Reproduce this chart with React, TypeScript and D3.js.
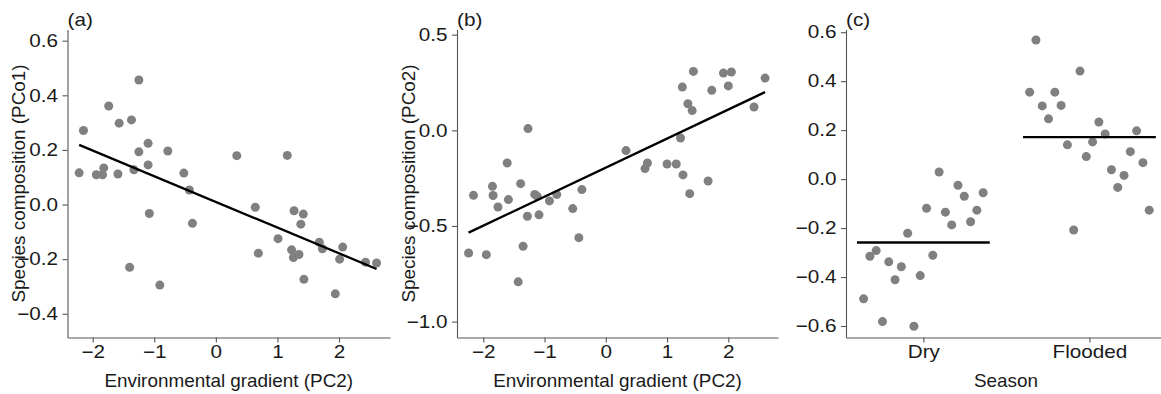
import React, { useEffect, useRef } from 'react';
import * as d3 from 'd3';

// panel (a): environmental gradient vs PCo1
const pc2A = [
	-2.22, -2.15, -1.94, -1.84, -1.82, -1.74, -1.59, -1.57, -1.37, -1.33, -1.25, -1.25, -1.1, -1.1, -0.78, -0.52, -0.43, 0.34,
	1.16, -1.08, -0.38, 0.64, 0.69, 1.01, 1.27, 1.42, 1.38, 1.23, 1.26, 1.35, 1.43, 1.68, 1.73, 2.06, 2.01, 1.94, 2.43, 2.61,
	-1.4, -0.91,
];
const pco1 = [
	0.116, 0.271, 0.109, 0.109, 0.134, 0.361, 0.112, 0.298, 0.31, 0.127, 0.456, 0.193, 0.224, 0.145, 0.196, 0.115, 0.053,
	0.179, 0.18, -0.033, -0.069, -0.01, -0.178, -0.125, -0.023, -0.035, -0.072, -0.166, -0.194, -0.183, -0.274, -0.138,
	-0.162, -0.156, -0.2, -0.327, -0.211, -0.214, -0.23, -0.295,
];

// panel (b): environmental gradient vs PCo2
const pc2B = [
	-2.16, -1.85, -1.84, -1.61, -1.59, -1.39, -1.27, -1.12, -1.16, -0.8, -0.39, 0.33, 0.64, 0.68, 1.0, 1.15, 1.22, 1.26, 1.25,
	1.34, 1.41, 1.43, 1.37, 1.67, 1.73, 1.92, 2.05, 2.0, 2.42, 2.6, -1.76, -0.92, -1.28, -1.09, -0.54, -2.24, -1.95, -1.35,
	-0.44, -1.43,
];
const pco2 = [
	-0.34, -0.293, -0.341, -0.171, -0.362, -0.279, 0.009, -0.345, -0.335, -0.336, -0.31, -0.106, -0.2, -0.171, -0.176, -0.176,
	-0.04, -0.233, 0.226, 0.139, 0.103, 0.308, -0.331, -0.265, 0.209, 0.299, 0.305, 0.232, 0.122, 0.273, -0.401, -0.369,
	-0.449, -0.442, -0.409, -0.641, -0.65, -0.606, -0.561, -0.792,
];

// panel (c): PCo1 by season
const seasons = ['Dry', 'Flooded'];
const dryValues = [
	-0.489, -0.315, -0.292, -0.582, -0.338, -0.411, -0.358, -0.221, -0.601, -0.394, -0.119, -0.311, 0.029, -0.135, -0.187,
	-0.025, -0.07, -0.174, -0.127, -0.056,
];
const floodedValues = [
	0.355, 0.568, 0.299, 0.246, 0.355, 0.301, 0.14, -0.208, 0.441, 0.092, 0.152, 0.233, 0.184, 0.038, -0.034, 0.015, 0.112,
	0.197, 0.067, -0.127,
];

const gradientTicks = [-2, -1, 0, 1, 2];
const ticksA = [-0.4, -0.2, 0, 0.2, 0.4, 0.6];
const ticksB = [-1, -0.5, 0, 0.5];
const ticksC = [-0.6, -0.4, -0.2, 0, 0.2, 0.4, 0.6];

const W = 1161;
const H = 394;
const top = 29.5;
const bottom = 337.5;

const fontfamily = "'Liberation Sans', Arial, sans-serif";
const textcolor = '#1a1a1a';
const axiscolor = '#555555';
const pointcolor = '#808080';

function fitLine(xs: number[], ys: number[]) {
	const mx = d3.mean(xs) as number;
	const my = d3.mean(ys) as number;
	let sxy = 0;
	let sxx = 0;
	xs.forEach((x, i) => {
		sxy += (x - mx) * (ys[i] - my);
		sxx += (x - mx) * (x - mx);
	});
	const slope = sxy / sxx;
	const intercept = my - slope * mx;
	const [x0, x1] = d3.extent(xs) as [number, number];
	return [
		[x0, intercept + slope * x0],
		[x1, intercept + slope * x1],
	];
}

const App = () => {
	const container = useRef<SVGSVGElement>(null);

	useEffect(() => {
		const svg = d3.select(container.current);
		svg.selectAll('*').remove();

		const panels = [
			{
				key: '(a)',
				left: 67.5,
				right: 390,
				xdomain: [-2.409, 2.828],
				ydomain: [-0.487, 0.641],
				yticks: ticksA,
				ytitle: 'Species composition (PCo1)',
				xtitle: 'Environmental gradient (PC2)',
				xs: pc2A,
				ys: pco1,
			},
			{
				key: '(b)',
				left: 457,
				right: 778,
				xdomain: [-2.429, 2.811],
				ydomain: [-1.083, 0.527],
				yticks: ticksB,
				ytitle: 'Species composition (PCo2)',
				xtitle: 'Environmental gradient (PC2)',
				xs: pc2B,
				ys: pco2,
			},
		];

		const tickstretch = 1.15;
		const styleAxis = (g: any) => {
			g.attr('font-size', null).attr('font-family', null);
			g.selectAll('.domain').attr('stroke', axiscolor).attr('stroke-width', 1.1);
			g.selectAll('.tick line').attr('stroke', axiscolor).attr('stroke-width', 1.1);
			g.selectAll('.tick text')
				.attr('fill', textcolor)
				.style('font-size', '18px')
				.attr('transform', `scale(${tickstretch},1)`);
		};

		const label = (x: number, y: number, txt: string, anchor: string, stretch: number, rotate = 0) => {
			svg.append('text')
				.attr('transform', `translate(${x},${y}) rotate(${rotate}) scale(${stretch},1)`)
				.attr('text-anchor', anchor)
				.attr('fill', textcolor)
				.style('font-size', '18px')
				.text(txt);
		};

		panels.forEach(p => {
			const x = d3.scaleLinear().domain(p.xdomain).range([p.left, p.right]);
			const y = d3.scaleLinear().domain(p.ydomain).range([bottom, top]);

			svg.append('g')
				.attr('transform', `translate(0,${bottom})`)
				.call(d3.axisBottom(x).tickValues(gradientTicks).tickFormat(d3.format('d')).tickSize(5).tickPadding(3).tickSizeOuter(0))
				.call(styleAxis);

			svg.append('g')
				.attr('transform', `translate(${p.left},0)`)
				.call(
					d3
						.axisLeft(y)
						.tickValues(p.yticks)
						.tickFormat(d3.format('.1f'))
						.tickSize(5)
						.tickPadding(3.3)
						.tickSizeOuter(0)
				)
				.call(styleAxis);

			svg.append('g')
				.selectAll('circle')
				.data(p.xs.map((v, i) => [v, p.ys[i]]))
				.join('circle')
				.attr('cx', d => x(d[0]))
				.attr('cy', d => y(d[1]))
				.attr('r', 4.5)
				.attr('fill', pointcolor);

			const fit = fitLine(p.xs, p.ys);
			svg.append('path')
				.attr('d', d3.line().x(d => x(d[0])).y(d => y(d[1]))(fit as [number, number][]))
				.attr('stroke', '#000')
				.attr('stroke-width', 2.3)
				.attr('fill', 'none');

			label((p.left + p.right) / 2, 387, p.xtitle, 'middle', 1.05);
			label(p.left - 42.5, (top + bottom) / 2, p.ytitle, 'middle', 1.05, -90);
			label(p.left, 26, p.key, 'start', 1.15);
		});

		// panel (c)
		const left = 846;
		const right = 1161;
		const xc = d3.scaleLinear().domain([0.534, 2.431]).range([left, right]);
		const yc = d3.scaleLinear().domain([-0.647, 0.611]).range([bottom, top]);
		const groups = [dryValues, floodedValues];

		svg.append('g')
			.attr('transform', `translate(0,${bottom})`)
			.call(
				d3
					.axisBottom(xc)
					.tickValues([1, 2])
					.tickFormat((d: any) => seasons[d - 1])
					.tickSize(5)
					.tickPadding(3)
					.tickSizeOuter(0)
			)
			.call(styleAxis);

		svg.append('g')
			.attr('transform', `translate(${left},0)`)
			.call(d3.axisLeft(yc).tickValues(ticksC).tickFormat(d3.format('.1f')).tickSize(5).tickPadding(3.3).tickSizeOuter(0))
			.call(styleAxis);

		groups.forEach((vals, gi) => {
			const pos = gi + 1;
			const spread = d3
				.scalePoint<number>()
				.domain(d3.range(vals.length))
				.range([pos - 0.36, pos + 0.36]);

			svg.append('g')
				.selectAll('circle')
				.data(vals)
				.join('circle')
				.attr('cx', (d, i) => xc(spread(i) as number))
				.attr('cy', d => yc(d))
				.attr('r', 4.5)
				.attr('fill', pointcolor);

			const m = d3.mean(vals) as number;
			svg.append('line')
				.attr('x1', xc(pos - 0.4))
				.attr('x2', xc(pos + 0.4))
				.attr('y1', yc(m))
				.attr('y2', yc(m))
				.attr('stroke', '#000')
				.attr('stroke-width', 2.4);
		});

		label(1006, 387, 'Season', 'middle', 1.05);
		label(left, 26, '(c)', 'start', 1.15);
	});

	return (
		<svg
			ref={container}
			width={W}
			height={H}
			style={{ position: 'absolute', left: 0, top: 0, background: '#fff', fontFamily: fontfamily }}
		/>
	);
};

export default App;
